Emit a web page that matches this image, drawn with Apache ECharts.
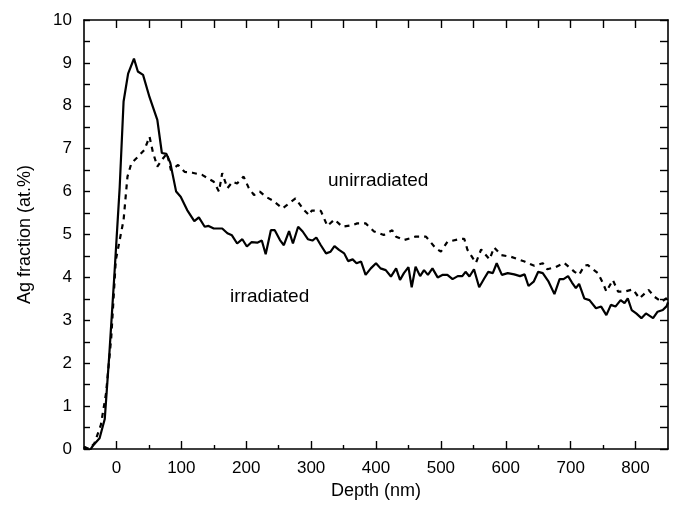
<!DOCTYPE html>
<html>
<head>
<meta charset="utf-8">
<script src="https://cdn.jsdelivr.net/npm/echarts@6/dist/echarts.min.js"></script>
<style>
html,body{margin:0;padding:0;background:#fff;}
#chart{width:675px;height:510px;}
</style>
</head>
<body>
<div id="chart"></div>
<script>
// Depth (nm) and Ag fraction (at.%) for the irradiated sample (solid line)
const irrDepth = [-50,-42,-35,-26,-18,-11,-3,5,11,18,27,33,41,51,63,70,77,83,92,99,109,120,127,136,142,150,163,171,178,186,194,201,208,217,224,230,238,244,252,258,266,272,280,287,295,302,308,315,323,330,336,343,351,357,364,370,377,384,392,400,407,415,423,431,437,443,450,455,461,468,474,480,487,495,503,510,518,526,533,538,544,551,559,567,573,580,586,594,603,613,622,629,635,643,650,657,666,675,683,689,696,702,708,713,721,729,739,747,755,762,769,777,783,788,794,801,809,816,827,834,842,848,850];
const irrFrac = [0.05,-0.05,0.1,0.25,0.7,2.2,4.1,6.1,8.1,8.75,9.1,8.8,8.72,8.2,7.67,6.9,6.88,6.67,6.0,5.88,5.57,5.31,5.4,5.18,5.2,5.14,5.14,5.03,4.98,4.79,4.89,4.72,4.82,4.81,4.86,4.54,5.1,5.1,4.87,4.75,5.08,4.79,5.18,5.07,4.89,4.86,4.93,4.75,4.56,4.6,4.73,4.64,4.56,4.38,4.42,4.33,4.37,4.06,4.21,4.33,4.21,4.17,4.02,4.21,3.94,4.10,4.24,3.77,4.25,4.03,4.17,4.06,4.21,4.0,4.06,4.06,3.96,4.03,4.03,4.13,4.02,4.19,3.77,3.98,4.13,4.10,4.33,4.06,4.10,4.07,4.03,4.07,3.80,3.90,4.13,4.10,3.90,3.61,3.96,3.96,4.03,3.88,3.75,3.85,3.51,3.47,3.28,3.32,3.12,3.36,3.32,3.47,3.40,3.51,3.24,3.16,3.05,3.16,3.05,3.20,3.24,3.33,3.42];

// Depth (nm) and Ag fraction (at.%) for the unirradiated sample (dashed line)
const unirrDepth = [-50,-42,-34,-24,-16,-8,-1,5,11,17,23,33,43,51,56,63,70,78,84,95,105,117,132,150,158,163,171,179,186,196,204,212,221,230,240,256,263,276,289,297,301,315,325,336,348,364,371,384,397,412,425,431,443,461,477,492,500,510,528,536,541,554,562,575,582,593,608,629,644,657,664,677,690,706,713,721,726,742,750,755,765,773,783,796,806,820,829,840,847,850];
const unirrFrac = [0.05,0.0,0.13,0.56,1.3,2.6,4.4,4.87,5.34,6.35,6.66,6.81,6.97,7.28,6.93,6.58,6.74,6.89,6.5,6.62,6.46,6.44,6.39,6.23,6.0,6.43,6.08,6.23,6.19,6.35,6.08,5.92,6.0,5.88,5.8,5.61,5.69,5.84,5.57,5.45,5.56,5.55,5.2,5.35,5.18,5.22,5.26,5.26,5.07,4.99,5.1,4.95,4.87,4.95,4.95,4.68,4.6,4.83,4.89,4.9,4.64,4.34,4.65,4.42,4.70,4.52,4.48,4.37,4.27,4.33,4.19,4.24,4.34,4.13,4.06,4.27,4.29,4.10,3.86,3.67,3.94,3.67,3.67,3.72,3.51,3.71,3.55,3.43,3.51,3.47];

// Tick labels / tick positions
const xLabelTicks = [0,100,200,300,400,500,600,700,800];
const xMinorTicks = [50,150,250,350,450,550,650,750];
const xTopTicks = [0,50,100,150,200,250,300,350,400,450,500,550,600,650,700,750,800];
const yHalfTicks = [0,0.5,1,1.5,2,2.5,3,3.5,4,4.5,5,5.5,6,6.5,7,7.5,8,8.5,9,9.5,10];

const xName = 'Depth (nm)';
const yName = 'Ag fraction (at.%)';
const seriesNames = ['irradiated','unirradiated'];

const FONT = '"Liberation Sans", Arial, Helvetica, sans-serif';
const lineCol = '#000';

const chart = echarts.init(document.getElementById('chart'), null, {renderer:'canvas'});

const baseX = {type:'value', min:-50, max:850, gridIndex:0, splitLine:{show:false}};
const baseY = {type:'value', min:0, max:10, interval:1, gridIndex:0, splitLine:{show:false}};

function zip(a,b){ return a.map((v,i)=>[v,b[i]]); }

chart.setOption({
  animation:false,
  backgroundColor:'#fff',
  grid:{left:84, top:20, right:7, bottom:61, containLabel:false},
  xAxis:[
    Object.assign({}, baseX, {
      position:'bottom',
      name:xName, nameLocation:'middle', nameGap:33,
      nameTextStyle:{color:'#000', fontSize:18, fontFamily:FONT},
      axisLine:{show:true, onZero:false, lineStyle:{color:lineCol, width:1.6}},
      axisTick:{show:true, inside:true, length:8, customValues:xLabelTicks, lineStyle:{color:lineCol, width:1.4}},
      axisLabel:{show:true, customValues:xLabelTicks, margin:11, color:'#000', fontSize:17, fontFamily:FONT}
    }),
    Object.assign({}, baseX, {
      position:'bottom',
      axisLine:{show:false, onZero:false},
      axisTick:{show:true, inside:true, length:4, customValues:xMinorTicks, lineStyle:{color:lineCol, width:1.4}},
      axisLabel:{show:false}
    }),
    Object.assign({}, baseX, {
      position:'top',
      axisLine:{show:true, onZero:false, lineStyle:{color:lineCol, width:1.6}},
      axisTick:{show:true, inside:true, length:8, customValues:xTopTicks, lineStyle:{color:lineCol, width:1.4}},
      axisLabel:{show:false}
    })
  ],
  yAxis:[
    Object.assign({}, baseY, {
      position:'left',
      name:yName, nameLocation:'middle', nameGap:50,
      nameTextStyle:{color:'#000', fontSize:18, fontFamily:FONT},
      axisLine:{show:true, onZero:false, lineStyle:{color:lineCol, width:1.6}},
      axisTick:{show:true, inside:true, length:6, customValues:yHalfTicks, lineStyle:{color:lineCol, width:1.4}},
      axisLabel:{show:true, margin:12, color:'#000', fontSize:17, fontFamily:FONT}
    }),
    Object.assign({}, baseY, {
      position:'right',
      axisLine:{show:true, onZero:false, lineStyle:{color:lineCol, width:1.6}},
      axisTick:{show:true, inside:true, length:8, customValues:yHalfTicks, lineStyle:{color:lineCol, width:1.4}},
      axisLabel:{show:false}
    })
  ],
  series:[
    {
      name:seriesNames[0], type:'line', xAxisIndex:0, yAxisIndex:0,
      data:zip(irrDepth, irrFrac), showSymbol:false, symbol:'none', clip:true,
      lineStyle:{color:'#000', width:2.2, type:'solid'}
    },
    {
      name:seriesNames[1], type:'line', xAxisIndex:0, yAxisIndex:0,
      data:zip(unirrDepth, unirrFrac), showSymbol:false, symbol:'none', clip:true,
      lineStyle:{color:'#000', width:2.2, type:[5,5]}
    }
  ],
  graphic:[
    {type:'text', left:328, top:171, style:{text:'unirradiated', fill:'#000', font:'19px '+FONT}},
    {type:'text', left:230, top:287, style:{text:'irradiated', fill:'#000', font:'19px '+FONT}}
  ]
});
</script>
</body>
</html>
